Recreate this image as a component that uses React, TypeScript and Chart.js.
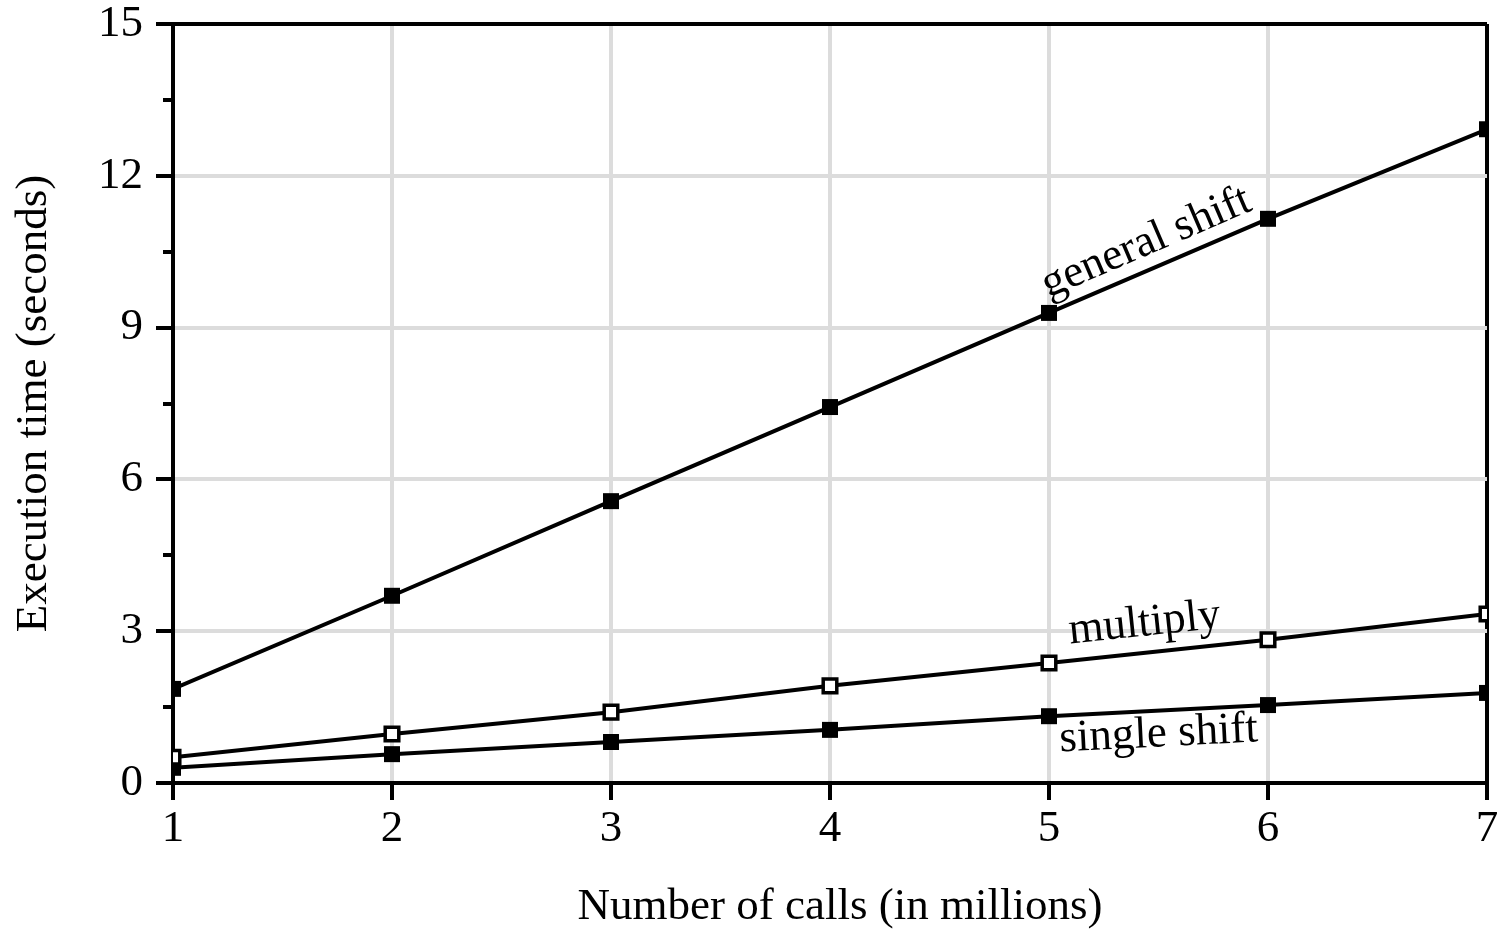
import React, { useEffect, useRef } from "react";
import { Chart, registerables } from "chart.js";

Chart.register(...registerables);

const calls = [1, 2, 3, 4, 5, 6, 7];
const generalShift = [1.86, 3.7, 5.57, 7.43, 9.29, 11.15, 12.92];
const multiply = [0.51, 0.97, 1.4, 1.92, 2.37, 2.83, 3.34];
const singleShift = [0.3, 0.57, 0.81, 1.05, 1.32, 1.54, 1.78];
const yMajorTicks = [0, 3, 6, 9, 12, 15];
const yMinorTicks = [1.5, 4.5, 7.5, 10.5, 13.5];
const seriesLabels = ["general shift", "multiply", "single shift"];
const xTitle = "Number of calls (in millions)";
const yTitle = "Execution time (seconds)";

const FONT = "'Liberation Serif', 'Times New Roman', serif";
const FS = 45;

const toPoints = (ys: number[]) => calls.map((x, i) => ({ x, y: ys[i] }));

const minorTickPlugin = {
  id: "minorTicks",
  afterDraw(chart: any) {
    const y = chart.scales.y;
    const x = chart.scales.x;
    const ctx = chart.ctx;
    ctx.save();
    ctx.strokeStyle = "#000";
    ctx.lineWidth = 4;
    yMinorTicks.forEach((v) => {
      const py = Math.round(y.getPixelForValue(v));
      ctx.beginPath();
      ctx.moveTo(y.right - 10, py);
      ctx.lineTo(y.right, py);
      ctx.stroke();
    });
    // x-axis title, centred slightly right of the plot centre as in the original
    ctx.font = `${FS}px ${FONT}`;
    ctx.fillStyle = "#000";
    ctx.textAlign = "center";
    ctx.textBaseline = "middle";
    ctx.fillText(xTitle, (x.left + x.right) / 2 + 10, x.bottom - 24);
    ctx.restore();
  },
};

const labelPlugin = {
  id: "seriesLabels",
  afterDatasetsDraw(chart: any) {
    const ctx = chart.ctx;
    const specs = [
      { ds: 0, i: 4, off: 26, along: -2 },
      { ds: 1, i: 4, off: 29, along: -11 },
      { ds: 2, i: 4, off: -24, along: -1 },
    ];
    ctx.save();
    ctx.font = `${FS}px ${FONT}`;
    ctx.fillStyle = "#000";
    ctx.textAlign = "center";
    ctx.textBaseline = "middle";
    specs.forEach((s) => {
      const meta = chart.getDatasetMeta(s.ds);
      const a = meta.data[s.i];
      const b = meta.data[s.i + 1];
      const ang = Math.atan2(b.y - a.y, b.x - a.x);
      const mx = (a.x + b.x) / 2;
      const my = (a.y + b.y) / 2;
      const nx = Math.sin(ang);
      const ny = -Math.cos(ang);
      const px = mx + nx * s.off + Math.cos(ang) * s.along;
      const py = my + ny * s.off + Math.sin(ang) * s.along;
      ctx.save();
      ctx.translate(px, py);
      ctx.rotate(ang);
      ctx.fillText(seriesLabels[s.ds], 0, 0);
      ctx.restore();
    });
    ctx.restore();
  },
};

export default function App() {
  const ref = useRef<HTMLCanvasElement | null>(null);

  useEffect(() => {
    if (!ref.current) return;
    const filled = {
      borderColor: "#000",
      borderWidth: 4,
      pointStyle: "rect",
      pointRadius: 11.3,
      pointBackgroundColor: "#000",
      pointBorderColor: "#000",
      pointBorderWidth: 0,
    };
    const chart = new Chart(ref.current, {
      type: "line",
      data: {
        datasets: [
          { label: seriesLabels[0], data: toPoints(generalShift), ...filled },
          {
            label: seriesLabels[1],
            data: toPoints(multiply),
            borderColor: "#000",
            borderWidth: 4,
            pointStyle: "rect",
            pointRadius: 9.6,
            pointBackgroundColor: "#fff",
            pointBorderColor: "#000",
            pointBorderWidth: 3.5,
          },
          { label: seriesLabels[2], data: toPoints(singleShift), ...filled },
        ] as any,
      },
      options: {
        animation: false,
        responsive: false,
        devicePixelRatio: 1,
        layout: { padding: { top: 24, right: 14, left: 0, bottom: 0 } },
        plugins: {
          legend: { display: false },
          tooltip: { enabled: false },
        },
        elements: { line: { tension: 0 } },
        scales: {
          x: {
            type: "linear",
            min: 1,
            max: 7,
            ticks: {
              stepSize: 1,
              color: "#000",
              font: { family: FONT, size: FS },
              padding: 2,
            },
            grid: {
              color: (c: any) => (c.tick && c.tick.value === 7 ? "#000" : "#dcdcdc"),
              lineWidth: 4,
              tickColor: "#000",
              tickWidth: 4,
              tickLength: 17,
            },
            border: { display: true, color: "#000", width: 4 },
            title: { display: false, text: xTitle },
            afterFit: (s: any) => {
              s.height = 148;
              s.paddingLeft = 0;
              s.paddingRight = 0;
            },
          },
          y: {
            type: "linear",
            min: 0,
            max: 15,
            afterBuildTicks: (s: any) => {
              s.ticks = yMajorTicks.map((v) => ({ value: v }));
            },
            ticks: {
              color: "#000",
              font: { family: FONT, size: FS },
              padding: 13,
            },
            grid: {
              color: (c: any) => (c.tick && c.tick.value === 15 ? "#000" : "#dcdcdc"),
              lineWidth: 4,
              tickColor: "#000",
              tickWidth: 4,
              tickLength: 17,
            },
            border: { display: true, color: "#000", width: 4 },
            title: {
              display: true,
              text: yTitle,
              color: "#000",
              font: { family: FONT, size: FS },
              padding: { top: 7, bottom: 0 },
            },
            afterFit: (s: any) => {
              s.width = 173;
              s.paddingTop = 0;
              s.paddingBottom = 0;
            },
          },
        },
      },
      plugins: [minorTickPlugin, labelPlugin],
    });
    return () => chart.destroy();
  }, []);

  return (
    <div style={{ position: "absolute", left: 0, top: 0, width: 1501, height: 931, background: "#fff" }}>
      <canvas ref={ref} width={1501} height={931} style={{ width: 1501, height: 931, display: "block" }} />
    </div>
  );
}
